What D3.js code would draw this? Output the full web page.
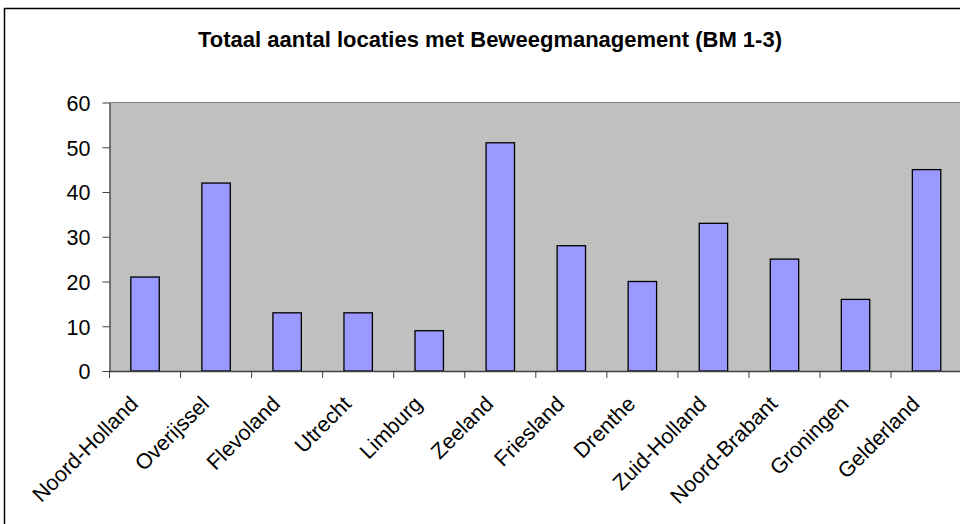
<!DOCTYPE html>
<html><head><meta charset="utf-8">
<script src="https://cdnjs.cloudflare.com/ajax/libs/d3/7.8.5/d3.min.js"></script>
<style>html,body{margin:0;padding:0;background:#fff;overflow:hidden}svg{display:block;font-family:"Liberation Sans",Arial,sans-serif}</style>
</head><body>
<script>
const title = "Totaal aantal locaties met Beweegmanagement (BM 1-3)";
const categories = ["Noord-Holland","Overijssel","Flevoland","Utrecht","Limburg","Zeeland","Friesland","Drenthe","Zuid-Holland","Noord-Brabant","Groningen","Gelderland"];
const values = [21,42,13,13,9,51,28,20,33,25,16,45];
const yTicks = [0,10,20,30,40,50,60];

const W=960,H=524;
const svg=d3.select("body").append("svg").attr("width",W).attr("height",H);
// outer chart border
svg.append("rect").attr("x",4.5).attr("y",8.5).attr("width",1000).attr("height",1000)
  .attr("fill","#fff").attr("stroke","#000").attr("stroke-width",1.5);

const L=109.5,T=102.5,B=371,R=109.5+71.05*12;
const x=d3.scaleBand().domain(categories).range([L,R]).paddingInner(0.6).paddingOuter(0.3);
const xb=d3.scaleBand().domain(categories).range([L,R]);
const y=d3.scaleLinear().domain([0,60]).range([B,T]);

svg.append("rect").attr("x",L).attr("y",T).attr("width",R-L).attr("height",B-T)
  .attr("fill","#c0c0c0");
svg.append("line").attr("x1",L).attr("x2",R).attr("y1",T).attr("y2",T).attr("stroke","#808080").attr("stroke-width",1);

svg.append("text").attr("x",490).attr("y",47).attr("text-anchor","middle")
  .attr("font-size",22).attr("font-weight","bold").attr("fill","#000").text(title);

svg.selectAll("rect.bar").data(values).join("rect").attr("class","bar")
  .attr("x",(d,i)=>x(categories[i])).attr("width",x.bandwidth())
  .attr("y",d=>y(d)).attr("height",d=>B-y(d))
  .attr("fill","#9999ff").attr("stroke","#000").attr("stroke-width",1.3);

// y axis
const ya=svg.append("g").attr("transform",`translate(${L},0)`)
  .call(d3.axisLeft(y).tickValues(yTicks).tickSize(7).tickPadding(12).tickSizeOuter(0));
ya.select(".domain").attr("stroke","#404040").attr("stroke-width",1.3);
ya.selectAll(".tick line").attr("stroke","#404040");
ya.selectAll(".tick text").attr("font-size",21.5).attr("fill","#000").attr("font-family","Liberation Sans, Arial, sans-serif").attr("dy","0.36em");

// x axis
const xa=svg.append("g").attr("transform",`translate(0,${B})`)
  .call(d3.axisBottom(xb).tickSize(0).tickSizeOuter(0).tickFormat(""));
xa.select(".domain").attr("stroke","#404040").attr("stroke-width",1.3);
// tick marks at band boundaries
svg.selectAll("line.xt").data(categories).join("line").attr("class","xt")
  .attr("x1",d=>xb(d)).attr("x2",d=>xb(d)).attr("y1",B).attr("y2",B+7)
  .attr("stroke","#404040");
svg.selectAll("text.xl").data(categories).join("text").attr("class","xl")
  .attr("transform",d=>`translate(${xb(d)+xb.bandwidth()/2-11},${B+29}) rotate(-45)`)
  .attr("text-anchor","end").attr("dy","0.35em").attr("font-size",21.5).attr("fill","#000").text(d=>d);
</script>
</body></html>
